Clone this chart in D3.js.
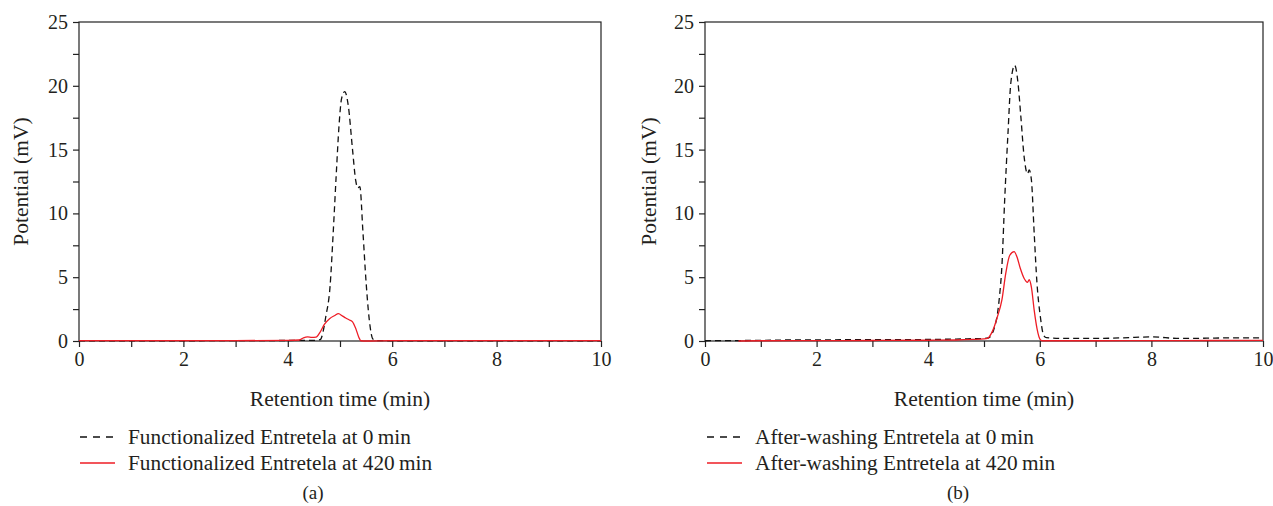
<!DOCTYPE html>
<html>
<head>
<meta charset="utf-8">
<script src="https://cdn.jsdelivr.net/npm/d3@7"></script>
<style>
  html, body { margin: 0; padding: 0; background: #fff; }
  svg text { font-family: "Liberation Serif", "Times New Roman", serif; fill: #231f20; }
</style>
</head>
<body>
<svg id="chart" width="1273" height="506"></svg>
<script>
// Retention time (min) and potential (mV) pairs for each chromatogram
const funct0 = [[0,0.02],[1,0.02],[2,0.02],[3,0.03],[4,0.04],[4.5,0.05],[4.62,0.1],[4.73,1.96],[4.81,4.3],[4.87,8.5],[4.93,13.2],[4.98,16.8],[5.03,19.0],[5.09,19.55],[5.16,18.4],[5.24,15.0],[5.30,12.6],[5.34,12.0],[5.38,12.1],[5.44,8.5],[5.50,4.6],[5.56,1.7],[5.63,0.15],[5.71,0.03],[6,0.02],[7,0.02],[8,0.02],[9,0.02],[10,0.02]];
const funct420 = [[0,0.03],[1,0.03],[2,0.03],[3,0.03],[4,0.05],[4.22,0.08],[4.3,0.25],[4.38,0.32],[4.46,0.28],[4.54,0.3],[4.62,0.7],[4.7,1.3],[4.8,1.75],[4.9,2.0],[4.97,2.14],[5.05,1.95],[5.11,1.8],[5.18,1.65],[5.24,1.5],[5.3,1.0],[5.36,0.3],[5.4,0.02],[5.5,0],[6,0.03],[7,0.03],[8,0.03],[9,0.03],[10,0.03]];
const wash0 = [[0,0.02],[0.5,0.03],[1,0.05],[1.5,0.08],[2,0.08],[2.5,0.1],[3,0.1],[3.5,0.1],[4,0.12],[4.5,0.15],[4.8,0.18],[5.0,0.2],[5.08,0.25],[5.13,0.44],[5.19,1.1],[5.24,2.1],[5.28,3.6],[5.32,5.8],[5.37,11.0],[5.43,16.3],[5.48,20.2],[5.55,21.6],[5.61,20.2],[5.66,17.6],[5.72,14.4],[5.78,13.1],[5.81,13.4],[5.85,12.6],[5.90,8.4],[5.95,4.5],[6.01,1.9],[6.07,0.44],[6.12,0.26],[6.5,0.2],[7,0.2],[7.5,0.25],[8,0.32],[8.5,0.2],[9,0.22],[9.5,0.25],[10,0.25]];
const wash420 = [[0.6,0],[1,0.02],[2,0.03],[3,0.04],[4,0.06],[4.5,0.08],[4.8,0.12],[5.0,0.16],[5.06,0.2],[5.13,0.58],[5.19,1.2],[5.24,1.9],[5.32,3.2],[5.39,5.3],[5.46,6.7],[5.54,7.0],[5.59,6.6],[5.65,5.7],[5.72,4.9],[5.78,4.6],[5.81,4.8],[5.85,4.2],[5.90,2.4],[5.95,0.97],[6.01,0.1],[6.05,0.02],[7,0.02],[8,0.03],[9,0.04],[10,0.05]];

const xMajorTicks = [0, 2, 4, 6, 8, 10];
const xAllTicks = [0,1,2,3,4,5,6,7,8,9,10];
const yMajorTicks = [0, 5, 10, 15, 20, 25];
const yAllTicks = [0,2.5,5,7.5,10,12.5,15,17.5,20,22.5,25];

const panels = [
  { left: 79, right: 601, top: 22, bottom: 341, ylabX: 20,
    series: [funct0, funct420],
    names: ["Functionalized Entretela at 0\u2009min", "Functionalized Entretela at 420\u2009min"],
    legX: 80, tag: "(a)", tagX: 313 },
  { left: 705, right: 1263, top: 22, bottom: 341, ylabX: 648,
    series: [wash0, wash420],
    names: ["After-washing Entretela at 0\u2009min", "After-washing Entretela at 420\u2009min"],
    legX: 707, tag: "(b)", tagX: 958 }
];

const styles = [
  { stroke: "#111", dash: "6,4", legDash: "7,6", width: 1.3 },
  { stroke: "#ee1c25", dash: null, legDash: null, width: 1.3 }
];

const svg = d3.select("#chart");

panels.forEach(p => {
  const x = d3.scaleLinear().domain([0, 10]).range([p.left, p.right]);
  const y = d3.scaleLinear().domain([0, 25]).range([p.bottom, p.top]);
  const g = svg.append("g");

  // frame
  g.append("rect")
    .attr("x", p.left).attr("y", p.top)
    .attr("width", p.right - p.left).attr("height", p.bottom - p.top)
    .attr("fill", "none").attr("stroke", "#222").attr("stroke-width", 1.2);

  // x axis ticks and labels
  const xAx = g.append("g").attr("transform", `translate(0,${p.bottom})`)
    .call(d3.axisBottom(x).tickValues(xAllTicks).tickSize(6).tickSizeOuter(0)
      .tickFormat(d => xMajorTicks.includes(d) ? d : ""));
  xAx.select(".domain").remove();
  xAx.selectAll("line").attr("stroke", "#222").attr("stroke-width", 1.2);
  xAx.selectAll("text").attr("font-size", 20).attr("dy", "0.8em").attr("fill", "#231f20");

  // y axis ticks and labels
  const yAx = g.append("g").attr("transform", `translate(${p.left},0)`)
    .call(d3.axisLeft(y).tickValues(yAllTicks).tickSize(6).tickSizeOuter(0)
      .tickFormat(d => yMajorTicks.includes(d) ? d : ""));
  yAx.select(".domain").remove();
  yAx.selectAll("line").attr("stroke", "#222").attr("stroke-width", 1.2);
  yAx.selectAll("text").attr("font-size", 20).attr("dx", "-0.1em").attr("fill", "#231f20");

  // axis titles
  g.append("text").attr("x", (p.left + p.right) / 2).attr("y", 398).attr("dy", "0.35em")
    .attr("text-anchor", "middle").attr("font-size", 21.5).text("Retention time (min)");
  g.append("text")
    .attr("transform", `translate(${p.ylabX},${(p.top + p.bottom) / 2}) rotate(-90)`)
    .attr("text-anchor", "middle").attr("dy", "0.35em").attr("font-size", 21.5).text("Potential (mV)");

  // traces
  const line = d3.line().x(d => x(d[0])).y(d => y(d[1])).curve(d3.curveMonotoneX);
  p.series.forEach((s, i) => {
    g.append("path").datum(s).attr("d", line)
      .attr("fill", "none").attr("stroke", styles[i].stroke)
      .attr("stroke-width", styles[i].width)
      .attr("stroke-dasharray", styles[i].dash);
  });

  // legend
  p.names.forEach((n, i) => {
    const ly = 437 + i * 26;
    g.append("line").attr("x1", p.legX).attr("x2", p.legX + 35).attr("y1", ly).attr("y2", ly)
      .attr("stroke", styles[i].stroke).attr("stroke-width", styles[i].width)
      .attr("stroke-dasharray", styles[i].legDash);
    g.append("text").attr("x", p.legX + 48).attr("y", ly).attr("dy", "0.35em")
      .attr("font-size", 21.3).text(n);
  });
  g.append("text").attr("x", p.tagX).attr("y", 492).attr("dy", "0.35em")
    .attr("text-anchor", "middle").attr("font-size", 19).text(p.tag);
});
</script>
</body>
</html>
